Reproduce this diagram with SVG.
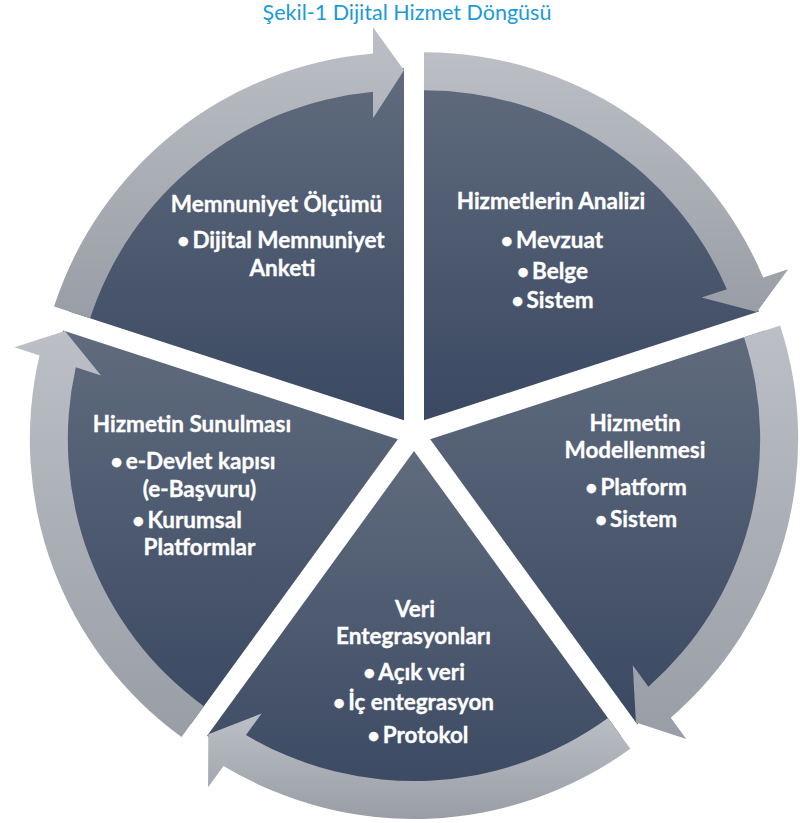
<svg xmlns="http://www.w3.org/2000/svg" width="803" height="823" viewBox="0 0 803 823">
<style>
.t{font-family:Lato,"Open Sans","Liberation Sans",sans-serif;font-weight:700;font-size:22.5px;fill:#ffffff;stroke:#ffffff;stroke-width:0.35px;text-anchor:middle}
.b{font-size:21px}
.title{font-family:Lato,"Open Sans","Liberation Sans",sans-serif;font-size:21.5px;fill:#1a9bd6;text-anchor:middle}
.w{fill:url(#gw)}
.a{fill:url(#ga)}
</style>
<defs>
<linearGradient id="gw" x1="0" y1="0" x2="0" y2="1">
<stop offset="0" stop-color="#606b7d"/>
<stop offset="1" stop-color="#3a4862"/>
</linearGradient>
<linearGradient id="ga" x1="0" y1="0" x2="0" y2="1">
<stop offset="0" stop-color="#bcbfc6"/>
<stop offset="1" stop-color="#999da5"/>
</linearGradient>
</defs>
<rect width="803" height="823" fill="#ffffff"/>
<text class="title" x="407" y="20">Şekil-1 Dijital Hizmet Döngüsü</text>

<g id="analizi">
<path class="w" d="M423.99 420.25 L423.99 68.25 A352 352 0 0 1 758.76 311.47 Z"/>
<path class="a" d="M423.99 52.25 A368 368 0 0 1 763.15 277.44 L788.18 269.33 L756.86 312.09 L701.63 297.45 L726.87 289.24 A330 330 0 0 0 423.99 90.25 Z"/>
<text class="t" x="551" y="209">Hizmetlerin Analizi</text>
<text class="t" x="552" y="248"><tspan class="b">•</tspan><tspan dx="3">Mevzuat</tspan></text>
<text class="t" x="552.5" y="279"><tspan class="b">•</tspan><tspan dx="3">Belge</tspan></text>
<text class="t" x="552.5" y="308"><tspan class="b">•</tspan><tspan dx="3">Sistem</tspan></text>
</g>

<g id="modellenmesi">
<path class="w" d="M430.17 439.25 L764.94 330.47 A352 352 0 0 1 637.07 724.03 Z"/>
<path class="a" d="M780.16 325.53 A368 368 0 0 1 670.78 717.70 L686.25 738.97 L635.90 722.41 L632.76 665.35 L648.37 686.83 A330 330 0 0 0 744.02 337.27 Z"/>
<text class="t" x="635" y="431">Hizmetin</text>
<text class="t" x="635" y="458">Modellenmesi</text>
<text class="t" x="636" y="495"><tspan class="b">•</tspan><tspan dx="3">Platform</tspan></text>
<text class="t" x="636" y="527"><tspan class="b">•</tspan><tspan dx="3">Sistem</tspan></text>
</g>

<g id="veri">
<path class="w" d="M414 451 L620.90 735.78 A352 352 0 0 1 207.10 735.78 Z"/>
<path class="a" d="M630.31 748.72 A368 368 0 0 1 223.53 765.88 L208.08 787.16 L208.27 734.16 L261.57 713.54 L245.96 735.02 A330 330 0 0 0 607.97 717.98 Z"/>
<text class="t" x="415" y="617">Veri</text>
<text class="t" x="413.5" y="644">Entegrasyonları</text>
<text class="t" x="414" y="680"><tspan class="b">•</tspan><tspan dx="3">Açık veri</tspan></text>
<text class="t" x="413.5" y="710"><tspan class="b">•</tspan><tspan dx="3">İç entegrasyon</tspan></text>
<text class="t" x="418" y="743"><tspan class="b">•</tspan><tspan dx="3">Protokol</tspan></text>
</g>

<g id="sunulmasi">
<path class="w" d="M397.83 439.25 L190.93 724.03 A352 352 0 0 1 63.06 330.47 Z"/>
<path class="a" d="M181.52 736.97 A368 368 0 0 1 39.51 355.40 L14.48 347.29 L64.96 331.09 L101.03 375.41 L75.78 367.20 A330 330 0 0 0 203.86 706.23 Z"/>
<text class="t" x="192" y="432">Hizmetin Sunulması</text>
<text class="t" x="193" y="469"><tspan class="b">•</tspan><tspan dx="3">e-Devlet kapısı</tspan></text>
<text class="t" x="199.5" y="497">(e-Başvuru)</text>
<text class="t" x="187" y="528"><tspan class="b">•</tspan><tspan dx="3">Kurumsal</tspan></text>
<text class="t" x="199.5" y="555">Platformlar</text>
</g>

<g id="memnuniyet">
<path class="w" d="M404.01 420.25 L69.24 311.47 A352 352 0 0 1 404.01 68.25 Z"/>
<path class="a" d="M54.02 306.53 A368 368 0 0 1 373.02 53.56 L373.01 27.25 L404.01 70.25 L373.01 118.25 L373.01 91.71 A330 330 0 0 0 90.16 318.27 Z"/>
<text class="t" x="276.5" y="212">Memnuniyet Ölçümü</text>
<text class="t" x="281" y="248"><tspan class="b">•</tspan><tspan dx="3">Dijital Memnuniyet</tspan></text>
<text class="t" x="282.5" y="276">Anketi</text>
</g>
</svg>
